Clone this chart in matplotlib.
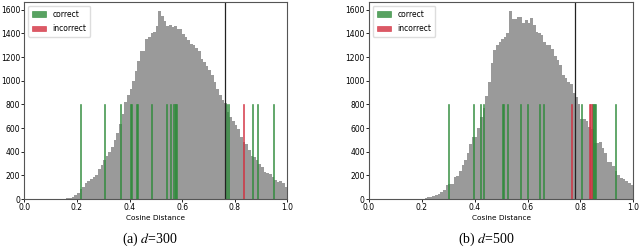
import numpy as np
import matplotlib.pyplot as plt

plt.rcParams['mathtext.fontset'] = 'stix'

# histogram counts, bins of width 0.01 starting at the given first bin
left_first_bin = 13
left_counts = [2, 3, 4, 6, 10, 18, 30, 48, 85, 100, 132, 150, 165, 185, 205, 250, 286,
               330, 360, 400, 440, 500, 560, 630, 720, 820, 880, 930, 1000, 1085, 1170,
               1255, 1250, 1355, 1370, 1400, 1415, 1465, 1585, 1550, 1505, 1465, 1470,
               1455, 1465, 1437, 1437, 1395, 1367, 1340, 1311, 1300, 1280, 1255, 1187,
               1156, 1120, 1090, 1044, 988, 933, 880, 840, 815, 735, 693, 660, 623, 595,
               525, 483, 463, 413, 362, 351, 328, 300, 272, 230, 216, 210, 182, 160, 146,
               152, 132, 104]

right_first_bin = 19
right_counts = [1, 3, 8, 14, 20, 28, 34, 45, 60, 80, 118, 125, 130, 185, 195, 240, 290,
                330, 385, 465, 525, 525, 600, 690, 770, 870, 990, 1150, 1260, 1300, 1330,
                1350, 1370, 1400, 1585, 1518, 1518, 1540, 1535, 1484, 1512, 1490, 1526,
                1470, 1413, 1400, 1386, 1330, 1305, 1300, 1265, 1205, 1175, 1132, 1048,
                1020, 985, 975, 893, 860, 800, 673, 673, 662, 611, 589, 470, 470, 484, 428,
                386, 315, 315, 279, 239, 203, 175, 166, 155, 132, 118]

# positions of the marked samples
left_correct = [0.215, 0.306, 0.364, 0.405, 0.409, 0.426, 0.431, 0.483, 0.541, 0.555,
                0.569, 0.574, 0.578, 0.770, 0.775, 0.867, 0.888, 0.947]
left_incorrect = [0.832]
left_threshold = 0.763

right_correct = [0.302, 0.395, 0.422, 0.433, 0.504, 0.510, 0.524, 0.573, 0.601, 0.645,
                 0.662, 0.803, 0.846, 0.850, 0.854, 0.858, 0.932]
right_incorrect = [0.765, 0.836, 0.840]
right_threshold = 0.781

captions = ['(a) $d$=300', '(b) $d$=500']

green = '#2e8b3a'
red = '#d32f3f'
gray = '#9a9a9a'


def draw(ax, first_bin, counts, correct, incorrect, threshold):
    edges = (first_bin + np.arange(len(counts))) / 100
    ax.bar(edges, counts, width=0.01, align='edge', color=gray, linewidth=0)
    ax.bar(correct, [800] * len(correct), width=0.004, color=green, edgecolor=green,
           linewidth=0.5, alpha=0.8, label='correct')
    ax.bar(incorrect, [800] * len(incorrect), width=0.004, color=red, edgecolor=red,
           linewidth=0.5, alpha=0.8, label='incorrect')
    ax.axvline(threshold, color='#222222', lw=0.9)
    ax.set_xlim(0, 1)
    ax.set_ylim(0, 1665)
    ax.set_yticks(np.arange(0, 1601, 200))
    ax.set_xticks(np.arange(0, 1.01, 0.2))
    ax.tick_params(labelsize=5.5, length=2, width=0.6, pad=1)
    ax.set_xlabel('Cosine Distance', fontsize=5.3, labelpad=2)
    for s in ax.spines.values():
        s.set_linewidth(0.8)
        s.set_color('#555555')
    ax.legend(loc='upper left', fontsize=5.5, handlelength=1.9, handleheight=0.7,
              borderpad=0.5, labelspacing=0.7, framealpha=1, edgecolor='#dddddd')


fig = plt.figure(figsize=(6.4, 2.49), dpi=100)
ax1 = fig.add_axes([0.038, 0.2008, 0.411, 0.7912])
ax2 = fig.add_axes([0.5766, 0.2008, 0.4129, 0.7912])

draw(ax1, left_first_bin, left_counts, left_correct, left_incorrect, left_threshold)
draw(ax2, right_first_bin, right_counts, right_correct, right_incorrect, right_threshold)

fig.text(0.234, 0.04, captions[0], ha='center', va='center', fontsize=10,
         family='Liberation Serif')
fig.text(0.76, 0.04, captions[1], ha='center', va='center', fontsize=10,
         family='Liberation Serif')

fig.savefig('out.png', dpi=100)
